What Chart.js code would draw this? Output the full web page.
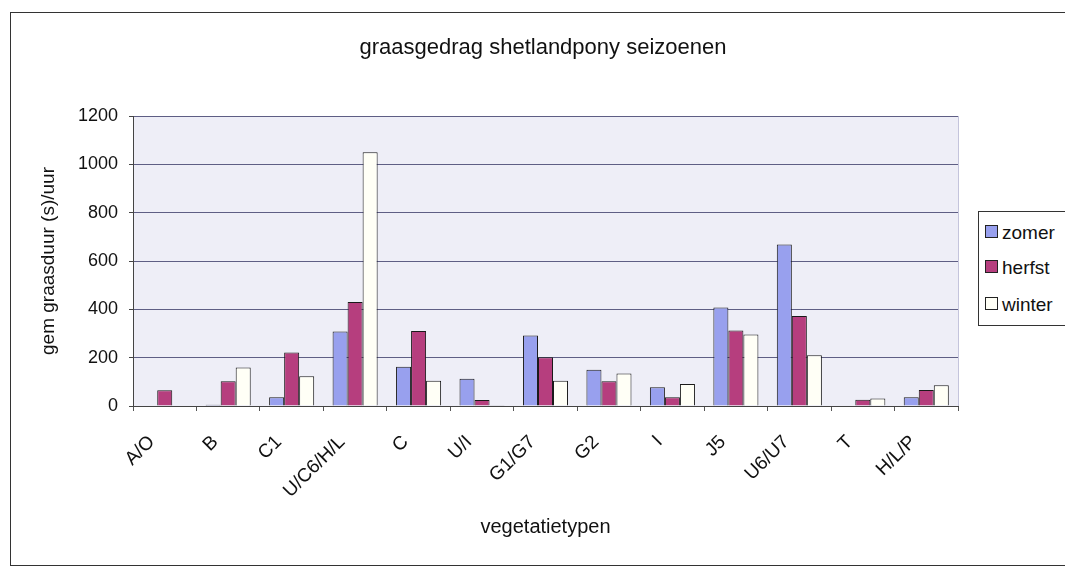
<!DOCTYPE html>
<html>
<head>
<meta charset="utf-8">
<title>graasgedrag shetlandpony seizoenen</title>
<script src="https://cdn.jsdelivr.net/npm/chart.js@4.4.0/dist/chart.umd.min.js"></script>
<style>
html, body { margin: 0; padding: 0; background: #fff; overflow: hidden; }
#wrap { position: relative; width: 1065px; height: 567px; }
#frame { position: absolute; left: 10px; top: 12px; width: 1100px; height: 552px; border: 1px solid #333; border-right: none; }
#chart { position: absolute; left: 0; top: 0; }
#legend { position: absolute; left: 978px; top: 211px; width: 120px; height: 113px; border: 1px solid #333; background: #fff;
  font-family: 'Liberation Sans', Arial, sans-serif; font-size: 19px; color: #111; }
.item { position: absolute; left: 6px; height: 22px; line-height: 22px; white-space: nowrap; }
.sw { display: inline-block; width: 11px; height: 11px; border: 1px solid #222; margin-right: 4px; vertical-align: middle; position: relative; top: -2px; }
</style>
</head>
<body>
<div id="wrap">
  <div id="frame"></div>
  <canvas id="chart" width="1065" height="567"></canvas>
  <div id="legend"></div>
</div>
<script>
// data
var categories = ['A/O', 'B', 'C1', 'U/C6/H/L', 'C', 'U/I', 'G1/G7', 'G2', 'I', 'J5', 'U6/U7', 'T', 'H/L/P'];
var zomer  = [0, 5, 36, 308, 162, 113, 292, 150, 78, 408, 668, 0, 36];
var herfst = [65, 102, 221, 430, 310, 25, 202, 102, 36, 312, 372, 26, 66];
var winter = [0, 159, 123, 1050, 105, 3, 105, 134, 91, 296, 210, 31, 86];
var yTicks = [0, 200, 400, 600, 800, 1000, 1200];

var seriesNames = ['zomer', 'herfst', 'winter'];
var seriesColors = ['#98a0ee', '#b63e7e', '#fffff6'];
var FONT = "'Liberation Sans', Arial, sans-serif";

var plotBg = {
    id: 'plotBg',
    beforeDraw: function (chart) {
        var a = chart.chartArea, ctx = chart.ctx;
        ctx.save();
        ctx.fillStyle = '#eeeef7';
        ctx.fillRect(a.left, a.top, a.right - a.left, a.bottom - a.top);
        ctx.restore();
    },
    afterDatasetsDraw: function (chart) {
        var a = chart.chartArea, ctx = chart.ctx;
        ctx.save();
        ctx.strokeStyle = '#c4c4dc';
        ctx.lineWidth = 1;
        ctx.beginPath();
        ctx.moveTo(a.right + 0.5, a.top);
        ctx.lineTo(a.right + 0.5, a.bottom);
        ctx.stroke();
        ctx.restore();
    }
};

var datasets = [zomer, herfst, winter].map(function (vals, i) {
    return {
        label: seriesNames[i],
        data: vals,
        backgroundColor: seriesColors[i],
        borderColor: '#1a1a1a',
        borderWidth: 1,
        barPercentage: 1,
        categoryPercentage: 0.71
    };
});

var chart = new Chart(document.getElementById('chart'), {
    type: 'bar',
    data: { labels: categories, datasets: datasets },
    plugins: [plotBg],
    options: {
        responsive: false,
        animation: false,
        devicePixelRatio: 1,
        layout: { padding: { top: 0, left: 21, right: 0, bottom: 0 } },
        plugins: {
            legend: { display: false },
            tooltip: { enabled: false },
            title: {
                display: true,
                text: 'graasgedrag shetlandpony seizoenen',
                color: '#111',
                font: { family: FONT, size: 22, weight: 'normal' },
                padding: { top: 35, bottom: 54.6 }
            }
        },
        scales: {
            x: {
                afterFit: function (s) { s.height = 161; },
                grid: { offset: true, drawOnChartArea: false, drawTicks: true, tickLength: 5, color: '#555' },
                border: { display: true, color: '#444' },
                ticks: {
                    color: '#111', font: { family: FONT, size: 19 },
                    minRotation: 45, maxRotation: 45, autoSkip: false, padding: 20, labelOffset: -13
                },
                title: {
                    display: true, text: 'vegetatietypen', color: '#111',
                    font: { family: FONT, size: 20 }, padding: { top: 0, bottom: 28 }
                }
            },
            y: {
                min: 0, max: 1200,
                afterFit: function (s) { s.width = 112; },
                afterBuildTicks: function (s) { s.ticks = yTicks.map(function (v) { return { value: v }; }); },
                grid: { color: '#5e5e84', lineWidth: 1, drawTicks: true, tickLength: 4, tickColor: '#444' },
                border: { display: true, color: '#444' },
                ticks: {
                    color: '#111', font: { family: FONT, size: 18 }, padding: 11,
                    callback: function (v) { return String(v); }
                },
                title: {
                    display: true, text: 'gem graasduur (s)/uur', color: '#111',
                    font: { family: FONT, size: 19 }, padding: { top: 16, bottom: 0 }
                }
            },
            // empty right-hand axis that only reserves room for the legend box
            yRight: {
                position: 'right',
                afterFit: function (s) { s.width = 107; },
                grid: { display: false, drawOnChartArea: false },
                border: { display: false },
                ticks: { display: false }
            }
        }
    }
});

// legend box on the right, built from the same series
var legend = document.getElementById('legend');
var tops = [10, 45, 82];
seriesNames.forEach(function (name, i) {
    var item = document.createElement('div');
    item.className = 'item';
    item.style.top = tops[i] + 'px';
    var sw = document.createElement('span');
    sw.className = 'sw';
    sw.style.background = seriesColors[i];
    item.appendChild(sw);
    item.appendChild(document.createTextNode(name));
    legend.appendChild(item);
});
</script>
</body>
</html>
